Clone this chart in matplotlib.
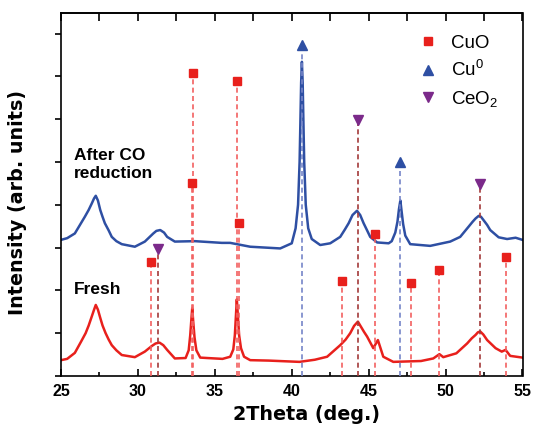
import numpy as np
import matplotlib
matplotlib.use("Agg")
import matplotlib.pyplot as plt

plt.rcParams['font.family'] = ['Liberation Sans', 'DejaVu Sans']
plt.rcParams['mathtext.fontset'] = 'custom'
plt.rcParams['mathtext.rm'] = 'Liberation Sans'
plt.rcParams['mathtext.it'] = 'Liberation Sans:italic'
plt.rcParams['mathtext.bf'] = 'Liberation Sans:bold'

# XRD patterns (2theta in deg, intensity in arbitrary units)
fresh_tt = [25.0, 25.4, 25.9, 26.3, 26.6, 26.8, 27.0, 27.15, 27.26, 27.4, 27.55, 27.7,
            27.9, 28.1, 28.3, 28.6, 28.95, 29.8, 30.45, 30.9, 31.15, 31.4, 31.65, 31.9,
            32.4, 33.1, 33.3, 33.4, 33.47, 33.53, 33.6, 33.68, 33.8, 34.05, 34.5, 35.5,
            36.0, 36.2, 36.3, 36.37, 36.43, 36.5, 36.58, 36.7, 36.9, 37.3, 38.5, 40.5,
            41.5, 42.3, 43.15, 43.5, 43.8, 44.05, 44.3, 44.5, 44.7, 44.9, 45.3, 45.6,
            45.95, 46.6, 48.4, 49.2, 49.6, 49.85, 50.7, 51.4, 51.7, 51.95, 52.1, 52.25,
            52.45, 52.7, 53.25, 53.65, 53.9, 54.2, 55.0]
fresh_int = [0.37, 0.40, 0.54, 0.80, 1.00, 1.18, 1.39, 1.55, 1.66, 1.55, 1.36, 1.18,
             1.00, 0.85, 0.72, 0.60, 0.49, 0.44, 0.57, 0.70, 0.76, 0.78, 0.72, 0.61,
             0.41, 0.42, 0.60, 0.95, 1.30, 1.58, 1.25, 0.90, 0.60, 0.43, 0.42, 0.40,
             0.45, 0.62, 0.95, 1.40, 1.79, 1.40, 0.95, 0.65, 0.45, 0.37, 0.36, 0.33,
             0.38, 0.45, 0.72, 0.85, 1.00, 1.17, 1.27, 1.15, 1.03, 0.92, 0.65, 0.84,
             0.45, 0.33, 0.35, 0.41, 0.51, 0.44, 0.53, 0.76, 0.88, 0.96, 1.02, 1.04,
             0.97, 0.84, 0.65, 0.57, 0.61, 0.47, 0.43]

reduced_tt = [25.0, 25.4, 25.9, 26.55, 26.8, 27.0, 27.15, 27.26, 27.4, 27.55, 27.7,
              27.85, 28.1, 28.3, 28.6, 28.95, 29.8, 30.45, 31.0, 31.2, 31.45, 31.7,
              31.9, 32.4, 33.7, 35.45, 36.0, 37.3, 39.25, 40.0, 40.25, 40.41, 40.51,
              40.56, 40.61, 40.66, 40.71, 40.76, 40.81, 40.91, 41.07, 41.3, 41.85,
              42.5, 43.15, 43.45, 43.7, 43.95, 44.24, 44.45, 44.67, 44.9, 45.1, 45.55,
              46.3, 46.5, 46.73, 46.87, 46.97, 47.06, 47.14, 47.24, 47.38, 47.7, 49.0,
              50.3, 50.95, 51.5, 51.75, 51.95, 52.15, 52.3, 52.47, 52.7, 52.9, 53.45,
              54.0, 54.55, 55.0]
reduced_int = [3.18, 3.22, 3.33, 3.72, 3.88, 4.03, 4.15, 4.21, 4.10, 3.88, 3.72,
               3.57, 3.40, 3.25, 3.15, 3.08, 3.02, 3.14, 3.33, 3.39, 3.41, 3.35,
               3.25, 3.14, 3.15, 3.11, 3.11, 3.02, 2.98, 3.10, 3.45, 4.00, 5.00,
               5.90, 6.85, 7.34, 6.85, 5.90, 5.00, 4.00, 3.45, 3.20, 3.06,
               3.10, 3.25, 3.42, 3.57, 3.76, 3.86, 3.76, 3.57, 3.40, 3.25, 3.12,
               3.10, 3.15, 3.35, 3.60, 3.90, 4.10, 3.85, 3.55, 3.28, 3.08, 3.04,
               3.14, 3.25, 3.49, 3.60, 3.68, 3.74, 3.72, 3.64, 3.53, 3.41, 3.24,
               3.20, 3.23, 3.18]

# reference reflections: position and height of the marker
cuo_tt = [30.84, 33.55, 33.5, 36.45, 36.6, 43.25, 45.43, 47.75, 49.6, 53.93]
cuo_h = [2.67, 7.07, 4.52, 6.88, 3.57, 2.22, 3.32, 2.17, 2.47, 2.77]
cu_tt = [40.66, 47.06]
cu_h = [7.73, 5.01]
ceo2_tt = [31.29, 44.28, 52.21]
ceo2_h = [2.96, 5.98, 4.49]

red = '#e8201c'
blue = '#2e4fa3'
purple = '#7b2a8a'

fig = plt.figure(figsize=(5.33, 4.32), dpi=100)
ax = fig.add_axes([61/533, 1 - 376/432, 461.5/533, 363/432])

ax.plot(fresh_tt, fresh_int, color=red, lw=1.8, zorder=2)
ax.plot(reduced_tt, reduced_int, color=blue, lw=1.8, zorder=2)

ax.vlines(cuo_tt, 0, cuo_h, colors='#f26060', linestyles=(0, (3, 2)), lw=1.2, zorder=3)
ax.vlines(cu_tt, 0, cu_h, colors='#7585c8', linestyles=(0, (3, 2)), lw=1.2, zorder=3)
ax.vlines(ceo2_tt, 0, ceo2_h, colors='#a33a3a', linestyles=(0, (3, 2)), lw=1.2, zorder=3)

ax.plot(cuo_tt, cuo_h, 's', color=red, ms=6, ls='none', label='CuO', zorder=4)
ax.plot(cu_tt, cu_h, '^', color=blue, ms=7, ls='none', label='Cu$^{0}$', zorder=4)
ax.plot(ceo2_tt, ceo2_h, 'v', color=purple, ms=7, ls='none', label='CeO$_{2}$', zorder=4)

ax.text(25.85, 5.32, 'After CO\nreduction', fontsize=12.5, fontweight='bold',
        va='top', ha='left', linespacing=1.2)
ax.text(25.85, 1.92, 'Fresh', fontsize=12.5, fontweight='bold', va='baseline', ha='left')

ax.set_xlim(25, 55)
ax.set_ylim(0, 8.48)
ax.set_xticks([25, 30, 35, 40, 45, 50, 55])
ax.set_xticks(np.arange(27.5, 55, 5), minor=True)
ax.set_yticks(np.arange(0, 9))
ax.set_yticklabels([])
ax.tick_params(axis='x', which='major', direction='in', length=5, width=1.2,
               labelsize=11.5, pad=6)
ax.tick_params(axis='x', which='minor', direction='in', length=3, width=1.2)
ax.tick_params(axis='y', direction='out', length=4, width=1.2)
for lab in ax.get_xticklabels():
    lab.set_fontweight('bold')

top = ax.secondary_xaxis('top')
top.set_xticks(np.arange(25, 55.1, 2.5))
top.tick_params(direction='in', length=6, width=1.2, labeltop=False)
top.spines['top'].set_linewidth(1.2)

for sp in ax.spines.values():
    sp.set_linewidth(1.2)

ax.set_xlabel('2Theta (deg.)', fontsize=13.8, fontweight='bold', family='DejaVu Sans')
ax.xaxis.set_label_coords(0.532, -0.08)
ax.set_ylabel('Intensity (arb. units)', fontsize=13.8, fontweight='bold',
              family='DejaVu Sans')
ax.yaxis.set_label_coords(-0.074, 0.477)

ax.legend(loc='upper left', bbox_to_anchor=(0.775, 0.94), frameon=False,
          fontsize=13.5, handlelength=1.0, handletextpad=0.7, borderpad=0,
          borderaxespad=0, labelspacing=0.45)

fig.savefig('out.png', dpi=100)
